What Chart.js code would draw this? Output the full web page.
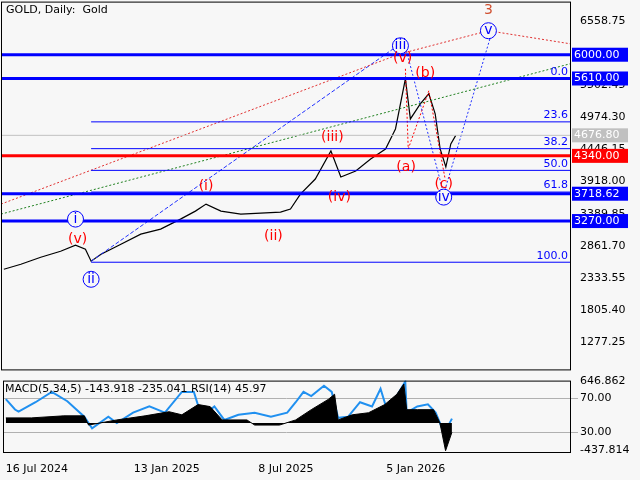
<!DOCTYPE html><html><head><meta charset="utf-8">
<script src="https://cdn.jsdelivr.net/npm/chart.js@4/dist/chart.umd.min.js"></script>
<style>body{margin:0;background:#f7f7f7;width:640px;height:480px;overflow:hidden;font-family:Tahoma,"DejaVu Sans",sans-serif}
#c1{position:absolute;left:0;top:-7px}#c2{position:absolute;left:0;top:372px}</style></head><body>
<canvas id="c1" width="640" height="385"></canvas><canvas id="c2" width="640" height="106"></canvas>
<script>
// days since 16 Jul 2024
const priceDays=[0,24,52,80,101,115,123,137,165,193,221,249,270,285,306,334,362,390,404,418,439,461,475,496,517,538,552,566,573,587,599,608,615,623,630,637];
const priceVals=[2479,2561,2676,2775,2874,2808,2611,2726,2890,3055,3137,3302,3433,3548,3433,3384,3400,3417,3466,3713,3960,4420,3992,4091,4289,4453,4782,5605,4946,5193,5358,5029,4453,4157,4535,4676.8];
const priceTicks=[6558.75,6030.60,5502.45,4974.30,4446.15,3918.00,3389.85,2861.70,2333.55,1805.40,1277.25];
const dateTicks=[0,181,357,538];
const dateLabels=["16 Jul 2024","13 Jan 2025","8 Jul 2025","5 Jan 2026"];
const levels=[6000,5610,3718.62,3270];
const supportLevel=4340;
const lastPrice=4676.80;
const fibNames=["0.0","23.6","38.2","50.0","61.8","100.0"];
const fibVals=[5610,4898,4458,4102,3746,2594];
const fibStartDay=123;
const blueWaves=[["i",101,3302],["ii",123,2314],["iii",559,6147],["iv",620,3663],["v",683,6394]];
const redWaves=[["(v)",104,2973],["(i)",285,3844],["(ii)",380,3022],["(iii)",463,4650],["(iv)",473,3663],["(v)",562,5934],["(a)",567,4157],["(b)",594,5687],["(c)",620,3877],["3",683,6723]];
const redTrendD=[-4,559,683,798],redTrendP=[3548,6016,6394,6180];
const greenTrendD=[-4,798],greenTrendP=[3384,5851];
const blueTrendD=[123,559],blueTrendP=[2611,6180];
const blueWaveD=[566,620,686],blueWaveP=[6131,3713,6296];
const redWaveD=[566,570,599,622],redWaveP=[5769,4453,5407,3960];
const rsiDays=[0,13,18,42,65,87,111,122,145,157,180,203,225,249,266,277,295,309,329,352,375,398,410,421,432,450,461,470,484,501,518,530,539,553,565,567,582,597,608,620,631];
const rsiVals=[68.8,56.7,54.2,65.2,77.3,66.4,48.2,34.8,48.2,40.9,53,60.3,53,77.3,77.3,48.2,60.3,44.5,50.6,53,48.2,53,65.2,77.3,72.4,84.5,77.3,47,48.2,65.2,60.3,80.9,56.7,72.4,89.4,53,60.3,62.7,53,28.8,46];
const macdDays=[0,36,82,111,117,157,197,231,249,272,289,306,341,352,387,410,432,456,465,470,490,513,536,553,563,567,582,605,614,622,631];
const macdVals=[80,80,112,112,-32,48,112,176,128,288,256,48,48,-32,-32,48,208,368,448,48,128,160,288,448,608,208,208,208,0,-432,-144];
const xy=(d,p)=>d.map((v,i)=>({x:v,y:p[i]}));
const dl=(d,p,c,dash,w)=>({data:xy(d,p),borderColor:c,borderDash:dash,borderWidth:w||1,pointRadius:0,fill:false,tension:0});
const XMIN=-4,XMAX=798;
const fnt={family:'Tahoma, "DejaVu Sans", sans-serif',size:11};
const overlay={id:'ov',afterDatasetsDraw(ch){
 const c=ch.ctx,x=ch.scales.x,y=ch.scales.y,a=ch.chartArea;
 c.save();
 const hl=(p,col,w,x0)=>{c.strokeStyle=col;c.lineWidth=w;c.beginPath();c.moveTo(x0||a.left,y.getPixelForValue(p));c.lineTo(a.right,y.getPixelForValue(p));c.stroke();};
 hl(lastPrice,'#c0c0c0',1);
 fibVals.forEach(v=>hl(v,'#0000ff',1,x.getPixelForValue(fibStartDay)));
 levels.forEach(v=>hl(v,'#0000ff',3));
 hl(supportLevel,'#ff0000',3);
 c.font='11px Tahoma, "DejaVu Sans", sans-serif';c.textAlign='right';c.textBaseline='bottom';c.fillStyle='#0000ff';
 fibNames.forEach((n,i)=>c.fillText(n,a.right-2,y.getPixelForValue(fibVals[i])-1));
 const box=(p,bg,txt)=>{const py=y.getPixelForValue(p);c.fillStyle=bg;c.fillRect(a.right+2,py-7,56,14);c.fillStyle='#fff';c.textAlign='left';c.textBaseline='middle';c.fillText(txt,a.right+4,py);};
 levels.forEach(v=>box(v,'#0000ff',v.toFixed(2)));
 box(supportLevel,'#ff0000',supportLevel.toFixed(2));
 box(lastPrice,'#c0c0c0',lastPrice.toFixed(2));
 c.font='14px Tahoma, "DejaVu Sans", sans-serif';c.textAlign='center';c.textBaseline='middle';
 blueWaves.forEach(([t,d,p])=>{const px=x.getPixelForValue(d),py=y.getPixelForValue(p);c.fillStyle='#f7f7f7';c.strokeStyle='#0000ff';c.lineWidth=1;c.beginPath();c.arc(px,py,8,0,7);c.fill();c.stroke();c.fillStyle='#0000ff';c.fillText(t,px,py);});
 redWaves.forEach(([t,d,p])=>{c.fillStyle=t==='3'?'#d05030':'#ff0000';c.fillText(t,x.getPixelForValue(d),y.getPixelForValue(p));});
 c.font='11px Tahoma, "DejaVu Sans", sans-serif';c.fillStyle='#000';c.textAlign='left';c.textBaseline='top';c.fillText('GOLD, Daily:  Gold',6,a.top+3);
 c.strokeStyle='#000';c.lineWidth=1;c.strokeRect(a.left+0.5,a.top+0.5,a.right-a.left,a.bottom-a.top);
 c.restore();}};
new Chart(document.getElementById('c1'),{type:'line',
 data:{datasets:[dl(greenTrendD,greenTrendP,'#208020',[2,2]),dl(redTrendD,redTrendP,'#e03030',[2,2]),dl(blueTrendD,blueTrendP,'#2030ff',[4,2]),dl(blueWaveD,blueWaveP,'#2030ff',[2,2]),dl(redWaveD,redWaveP,'#ff0000',[2,2]),dl(priceDays,priceVals,'#000',[],1.2)]},
 options:{animation:false,responsive:false,layout:{padding:{left:1,top:1,bottom:0}},plugins:{legend:{display:false},tooltip:{enabled:false}},
 scales:{x:{type:'linear',min:XMIN,max:XMAX,display:false},
 y:{position:'right',min:835,max:6872,grid:{display:false},border:{display:false},
  afterBuildTicks:s=>{s.ticks=priceTicks.map(v=>({value:v}));},
  afterFit:s=>{s.width=70;},
  ticks:{color:'#000',font:fnt,padding:2,callback:v=>v.toFixed(2)}}}},plugins:[overlay]});
const Z=40.9,K=0.075;
const ind={id:'ind',afterDatasetsDraw(ch){const c=ch.ctx,a=ch.chartArea;c.save();c.font='11px Tahoma, "DejaVu Sans", sans-serif';c.fillStyle='#000';c.textBaseline='top';c.fillText('MACD(5,34,5) -143.918 -235.041 RSI(14) 45.97',5,a.top+3);c.strokeStyle='#000';c.lineWidth=1;c.strokeRect(a.left+0.5,a.top+0.5,a.right-a.left,a.bottom-a.top);c.restore();}};
new Chart(document.getElementById('c2'),{type:'line',
 data:{datasets:[{data:xy(macdDays,macdVals.map(v=>Z+v*K)),borderColor:'#000',backgroundColor:'#000',borderWidth:1,pointRadius:0,fill:{value:Z},tension:0},
 dl(rsiDays,rsiVals,'#2090f0',[],2)]},
 options:{animation:false,responsive:false,layout:{padding:{left:3,top:2}},plugins:{legend:{display:false},tooltip:{enabled:false}},
 scales:{x:{type:'linear',min:XMIN,max:XMAX,grid:{display:false},border:{display:false},
  afterBuildTicks:s=>{s.ticks=dateTicks.map(v=>({value:v}));},
  afterFit:s=>{s.height=26;},
  ticks:{color:'#000',font:fnt,align:'start',maxRotation:0,callback:v=>dateLabels[dateTicks.indexOf(v)]}},
 y:{position:'right',min:7,max:90.5,border:{display:false},
  grid:{drawOnChartArea:true,color:c=>(c.tick&&(c.tick.value===70||c.tick.value===30))?'#b0b0b0':'rgba(0,0,0,0)',borderDash:[3,3]},
  afterBuildTicks:s=>{s.ticks=[89.4,70,30,9.4].map(v=>({value:v}));},
  afterFit:s=>{s.width=70;},
  ticks:{color:'#000',font:fnt,padding:2,callback:v=>({89.4:'646.862',70:'70.00',30:'30.00',9.4:'-437.814'})[v]}}}},plugins:[ind]});
</script></body></html>
